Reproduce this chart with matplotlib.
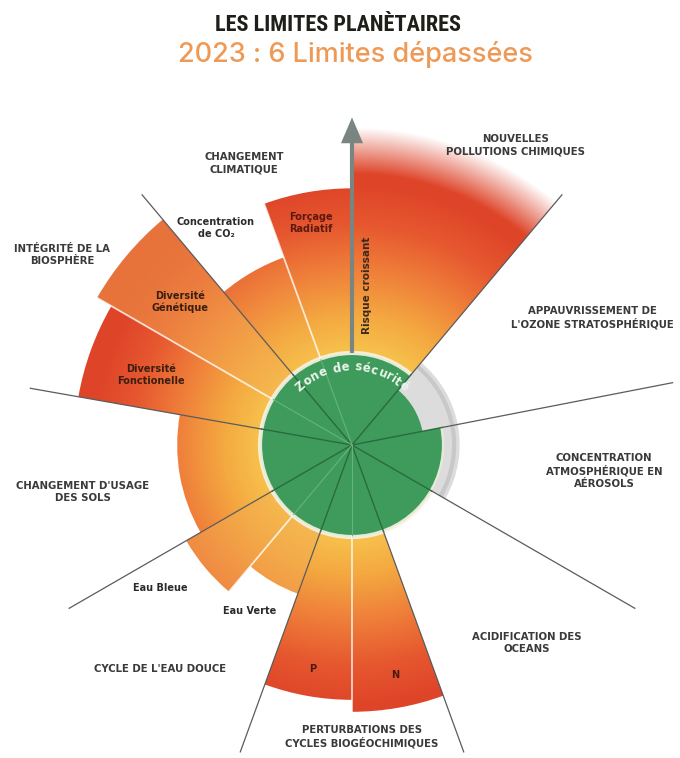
import numpy as np
import matplotlib
matplotlib.use("Agg")
import matplotlib.pyplot as plt
from matplotlib.patches import Wedge, Circle, FancyArrow, Arc
from matplotlib.colors import LinearSegmentedColormap, to_rgb
from matplotlib.textpath import text_to_path
from matplotlib.font_manager import FontProperties

# Sub-sectors, clockwise from the top. Angles in degrees (counter-clockwise from east),
# status = outer radius of the control variable (planetary boundary = 1)
sectors = ["Nouvelles pollutions chimiques", "Ozone stratosphérique", "Aérosols",
           "Acidification des océans", "N", "P", "Eau Verte", "Eau Bleue",
           "Usage des sols", "Diversité Fonctionelle", "Diversité Génétique",
           "Concentration de CO₂", "Forçage Radiatif"]
theta_start = [50, 11, -30, -70, -90, -110, -130, -150, 170, 150, 130, 110, 90]
theta_end = [90, 50, 11, -30, -70, -90, -110, -130, 210, 170, 150, 130, 110]
status = [3.45, 0.78, 1.0, 1.0, 2.90, 2.77, 1.72, 2.08, 1.90, 3.02, 3.20, 2.17, 2.79]
uncertain_outer = [0, 1.17, 1.17, 0, 0, 0, 0, 0, 0, 0, 0, 0, 0]

# boundaries between the nine processes, and between sub-variables
main_dividers = [50, 11, -30, -70, -110, -150, 170, 130]
sub_dividers = [110, 150, -130, -90]

main_labels = ["NOUVELLES\nPOLLUTIONS CHIMIQUES", "APPAUVRISSEMENT DE\nL'OZONE STRATOSPHÉRIQUE",
               "CONCENTRATION\nATMOSPHÉRIQUE EN\nAÉROSOLS", "ACIDIFICATION DES\nOCEANS",
               "PERTURBATIONS DES\nCYCLES BIOGÉOCHIMIQUES", "CYCLE DE L'EAU DOUCE",
               "CHANGEMENT D'USAGE\nDES SOLS", "INTÉGRITÉ DE LA\nBIOSPHÈRE",
               "CHANGEMENT\nCLIMATIQUE"]
sub_labels = ["Concentration\nde CO₂", "Forçage\nRadiatif", "Diversité\nGénétique",
              "Diversité\nFonctionelle", "Eau Bleue", "Eau Verte", "P", "N"]

title = "LES LIMITES PLANÈTAIRES"
subtitle = "2023 : 6 Limites dépassées"

# ---- layout -------------------------------------------------------------
W, H = 680, 758
CX, CY, UNIT = 352, 445, 92.0


def px(x, y):
    # reference pixel position -> data coordinates
    return (x - CX) / UNIT, (CY - y) / UNIT


fig = plt.figure(figsize=(W / 100, H / 100), dpi=100)
ax = fig.add_axes([0, 0, 1, 1])
ax.set_xlim(-CX / UNIT, (W - CX) / UNIT)
ax.set_ylim(-(H - CY) / UNIT, CY / UNIT)
ax.axis("off")

risk = LinearSegmentedColormap.from_list(
    "risk", [(0.0, "#f7c24c"), (0.16, "#f4a941"), (0.36, "#ef7f3a"),
             (0.56, "#e6572f"), (0.72, "#df4629"), (1.0, "#dc4128")])
light = np.array(to_rgb("#f3ad52"))
lighten = {"Diversité Génétique": 0.45, "Eau Bleue": 0.45, "Eau Verte": 0.5,
           "Concentration de CO₂": 0.1}

g = np.linspace(-3.7, 3.7, 900)
X, Y = np.meshgrid(g, g)
R = np.hypot(X, Y)
base = risk(np.clip((R - 1.0) / 2.5, 0, 1))

for name, t1, t2, r in zip(sectors, theta_start, theta_end, status):
    if r <= 1:
        continue
    img = base.copy()
    k = lighten.get(name, 0)
    img[..., :3] = img[..., :3] * (1 - k) + light * k
    if name.startswith("Nouvelles"):
        img[..., 3] = np.clip((r - R) / 0.5, 0, 1)
    w = Wedge((0, 0), r, t1, t2, width=r - 0.95, facecolor="none", edgecolor="none")
    ax.add_patch(w)
    im = ax.imshow(img, extent=(g[0], g[-1], g[0], g[-1]), origin="lower",
                   interpolation="bilinear", zorder=1)
    im.set_clip_path(w)

# safe zone
ax.add_patch(Circle((0, 0), 1.0, facecolor="#3f9b5c", edgecolor="none", zorder=2))
ax.add_patch(Circle((0, 0), 1.0, facecolor="none", edgecolor="#f8f4e6", lw=3,
                    alpha=0.9, zorder=2.5))
for name, t1, t2, r, u in zip(sectors, theta_start, theta_end, status, uncertain_outer):
    if u > 0:
        ax.add_patch(Wedge((0, 0), u, t1, t2, width=u - min(r, 1.0),
                           facecolor="#dcdcdc", edgecolor="none", zorder=3))
        ax.add_patch(Arc((0, 0), 2 * 1.11, 2 * 1.11, theta1=t1, theta2=t2,
                         color="#c8c8c8", lw=3, zorder=3.1))

# divider lines
for a in main_dividers:
    c, s = np.cos(np.radians(a)), np.sin(np.radians(a))
    ax.plot([0, c], [0, s], color="#2a6a41", lw=1.0, zorder=4)
    ax.plot([c, 3.55 * c], [s, 3.55 * s], color="#5b5b5b", lw=0.9, zorder=4)
for a in sub_dividers:
    c, s = np.cos(np.radians(a)), np.sin(np.radians(a))
    ax.plot([0, c], [0, s], color="#63b47d", lw=0.8, zorder=4)
    ax.plot([c, 3.3 * c], [s, 3.3 * s], color="white", lw=1.3, alpha=0.75, zorder=4)

# arrow "Risque croissant"
ax.add_patch(FancyArrow(0, 1.0, 0, 2.56, width=0.045, head_width=0.24, head_length=0.28,
                        length_includes_head=True, color="#7a8481", lw=0, zorder=5))
ax.text(*px(367, 285), "Risque croissant", rotation=90, ha="center", va="center",
        fontsize=7.5, fontweight="bold", color="#3b2a1c", family="DejaVu Sans", zorder=6)

# curved "Zone de sécurité"
fp = FontProperties(family="DejaVu Sans", weight="bold", size=8.5)
zone = "Zone de sécurité"
adv = []
for ch in zone:
    wdt = text_to_path.get_text_width_height_descent(ch if ch != " " else "a", fp, ismath=False)[0]
    adv.append((wdt * (0.6 if ch == " " else 1.0) + 0.1) * 100 / 72 / UNIT)
rt = 0.81
ang0 = np.pi / 2 + sum(adv) / 2 / rt
pos = 0.0
for ch, wdt in zip(zone, adv):
    a = ang0 - (pos + wdt / 2) / rt
    ax.text(rt * np.cos(a), rt * np.sin(a), ch, rotation=np.degrees(a) - 90,
            rotation_mode="anchor", ha="center", va="baseline", fontproperties=fp,
            color="#eef5ec", zorder=6)
    pos += wdt

# labels
main_pos = [(516, 145), (592, 318), (604, 471), (527, 643), (362, 737), (160, 669),
            (83, 492), (62, 255), (244, 163)]
for txt, (x, y) in zip(main_labels, main_pos):
    ax.text(*px(x, y), txt, ha="center", va="center", fontsize=7.3, fontweight="bold",
            color="#3a3a3a", family="DejaVu Sans", linespacing=1.25, zorder=6)

sub_pos = [(216, 228), (311, 223), (180, 302), (151, 375), (160, 588), (250, 611),
           (313, 669), (395, 675)]
sub_col = ["#2b2b2b", "#5a1a10", "#3a1e10", "#3a1e10", "#2b2b2b", "#2b2b2b", "#4a1a10", "#4a1a10"]
for txt, (x, y), c in zip(sub_labels, sub_pos, sub_col):
    ax.text(*px(x, y), txt, ha="center", va="center", fontsize=7, fontweight="bold",
            color=c, family="DejaVu Sans", linespacing=1.25, zorder=6)

fig.text(338 / W, 1 - 25 / H, title, ha="center", va="center", fontsize=16,
         fontweight="bold", color="#1f1f1a", fontstretch="condensed",
         family=["Roboto Condensed", "Roboto", "DejaVu Sans"])
fig.text(355 / W, 1 - 55 / H, subtitle, ha="center", va="center", fontsize=19.5,
         fontweight="medium", color="#ee9a56", family=["Inter", "DejaVu Sans"])

fig.savefig("out.png", dpi=100)
